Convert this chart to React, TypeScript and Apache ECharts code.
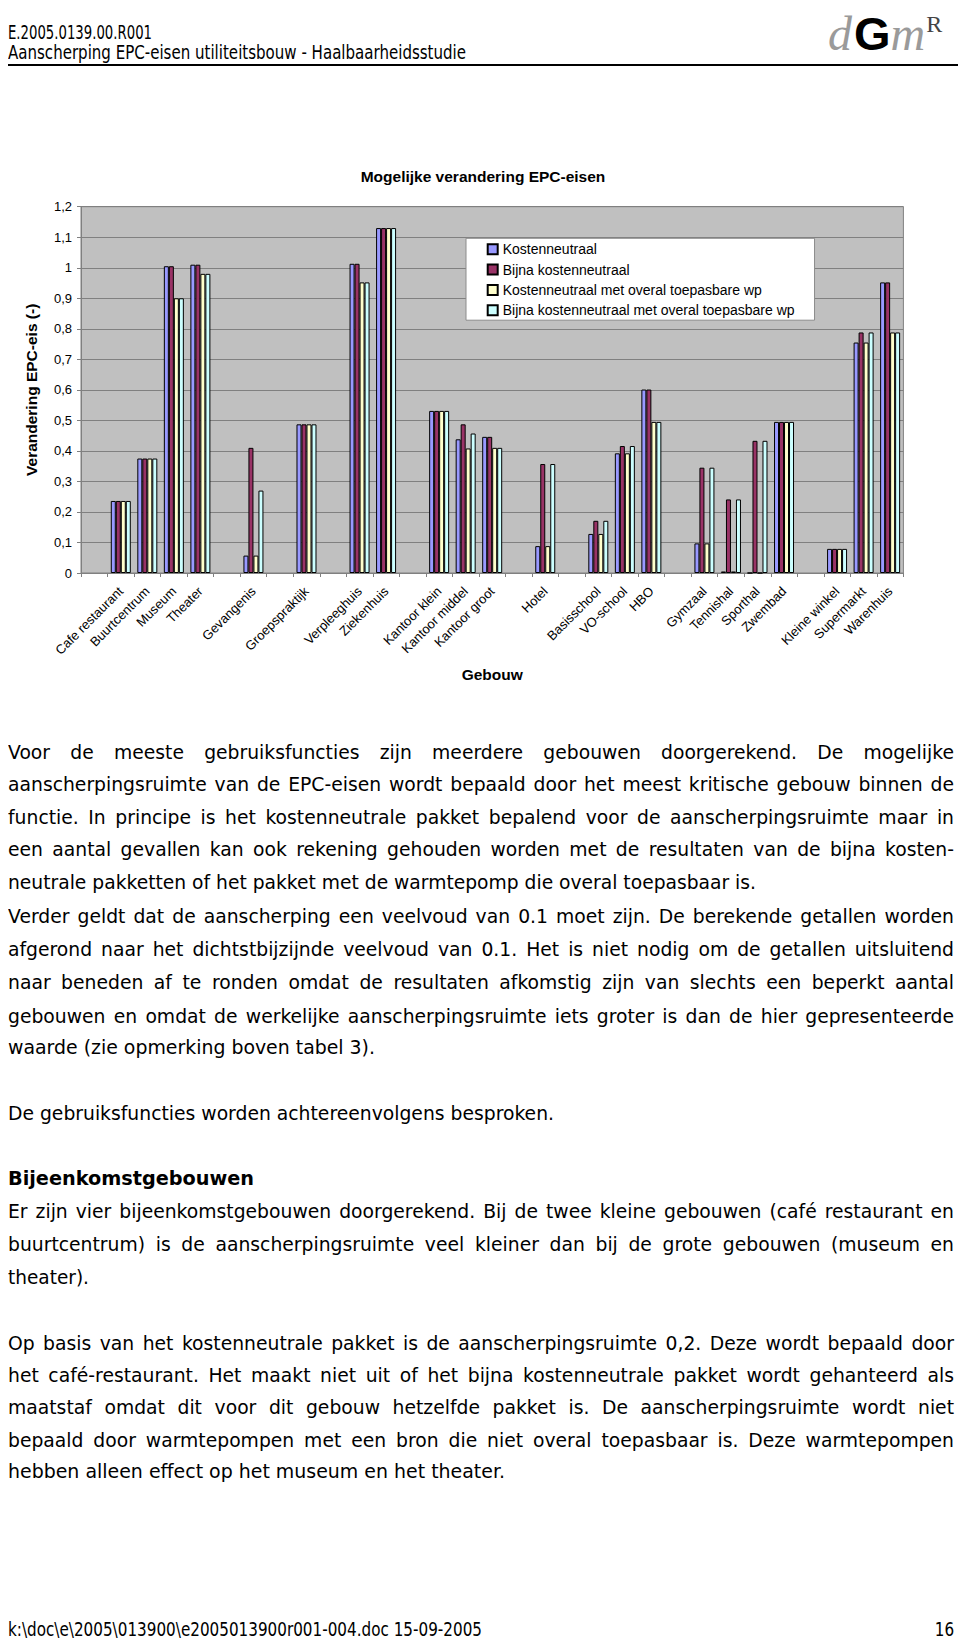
import React, { useEffect, useRef, useMemo } from 'react';
import * as echarts from 'echarts';

// ---------- chart data ----------
const categories = [
  '', 'Cafe restaurant', 'Buurtcentrum', 'Museum', 'Theater', '', 'Gevangenis', '', 'Groepspraktijk', '',
  'Verpleeghuis', 'Ziekenhuis', '', 'Kantoor klein', 'Kantoor middel', 'Kantoor groot', '', 'Hotel', '',
  'Basisschool', 'VO-school', 'HBO', '', 'Gymzaal', 'Tennishal', 'Sporthal', 'Zwembad', '', 'Kleine winkel',
  'Supermarkt', 'Warenhuis',
];

const seriesNames = [
  'Kostenneutraal',
  'Bijna kostenneutraal',
  'Kostenneutraal met overal toepasbare wp',
  'Bijna kostenneutraal met overal toepasbare wp',
];

const kostenneutraal = [null, 0.236, 0.375, 1.005, 1.01, null, 0.057, null, 0.487, null, 1.013, 1.13, null, 0.531, 0.438, 0.446, null, 0.088, null, 0.128, 0.392, 0.601, null, 0.097, 0.005, 0, 0.495, null, 0.079, 0.755, 0.952];
const bijnaKostenneutraal = [null, 0.236, 0.375, 1.005, 1.01, null, 0.41, null, 0.487, null, 1.013, 1.13, null, 0.531, 0.487, 0.446, null, 0.357, null, 0.171, 0.416, 0.601, null, 0.345, 0.241, 0.433, 0.495, null, 0.079, 0.788, 0.952];
const kostenneutraalWp = [null, 0.236, 0.375, 0.9, 0.98, null, 0.057, null, 0.487, null, 0.952, 1.13, null, 0.531, 0.408, 0.41, null, 0.088, null, 0.128, 0.392, 0.495, null, 0.097, 0.005, 0, 0.495, null, 0.079, 0.755, 0.788];
const bijnaKostenneutraalWp = [null, 0.236, 0.375, 0.9, 0.98, null, 0.27, null, 0.487, null, 0.952, 1.13, null, 0.531, 0.457, 0.41, null, 0.357, null, 0.171, 0.416, 0.495, null, 0.345, 0.241, 0.433, 0.495, null, 0.079, 0.788, 0.788];

const seriesValues = [kostenneutraal, bijnaKostenneutraal, kostenneutraalWp, bijnaKostenneutraalWp];
const seriesColors = ['#9999ff', '#993366', '#ffffcc', '#ccffff'];

const chartTitle = 'Mogelijke verandering EPC-eisen';
const yAxisTitle = 'Verandering EPC-eis (-)';
const xAxisTitle = 'Gebouw';

// ---------- page text ----------
type Line = { text: string; y: number; mode: 'justify' | 'left'; end?: number; bold?: boolean };

const headerLines: Line[] = [
  { text: 'E.2005.0139.00.R001', y: 32, mode: 'left', end: 152 },
  { text: 'Aanscherping EPC-eisen utiliteitsbouw - Haalbaarheidsstudie', y: 52, mode: 'left', end: 466 },
];

const bodyLines: Line[] = [
  { text: 'Voor de meeste gebruiksfuncties zijn meerdere gebouwen doorgerekend. De mogelijke', y: 752, mode: 'justify' },
  { text: 'aanscherpingsruimte van de EPC-eisen wordt bepaald door het meest kritische gebouw binnen de', y: 784, mode: 'justify' },
  { text: 'functie. In principe is het kostenneutrale pakket bepalend voor de aanscherpingsruimte maar in', y: 816.5, mode: 'justify' },
  { text: 'een aantal gevallen kan ook rekening gehouden worden met de resultaten van de bijna kosten-', y: 849, mode: 'justify' },
  { text: 'neutrale pakketten of het pakket met de warmtepomp die overal toepasbaar is.', y: 881.5, mode: 'left', end: 756 },
  { text: 'Verder geldt dat de aanscherping een veelvoud van 0.1 moet zijn. De berekende getallen worden', y: 916, mode: 'justify' },
  { text: 'afgerond naar het dichtstbijzijnde veelvoud van 0.1. Het is niet nodig om de getallen uitsluitend', y: 948.5, mode: 'justify' },
  { text: 'naar beneden af te ronden omdat de resultaten afkomstig zijn van slechts een beperkt aantal', y: 982, mode: 'justify' },
  { text: 'gebouwen en omdat de werkelijke aanscherpingsruimte iets groter is dan de hier gepresenteerde', y: 1015.5, mode: 'justify' },
  { text: 'waarde (zie opmerking boven tabel 3).', y: 1047, mode: 'left', end: 375 },
  { text: 'De gebruiksfuncties worden achtereenvolgens besproken.', y: 1113, mode: 'left', end: 554 },
  { text: 'Bijeenkomstgebouwen', y: 1178, mode: 'left', end: 254, bold: true },
  { text: 'Er zijn vier bijeenkomstgebouwen doorgerekend. Bij de twee kleine gebouwen (café restaurant en', y: 1210.5, mode: 'justify' },
  { text: 'buurtcentrum) is de aanscherpingsruimte veel kleiner dan bij de grote gebouwen (museum en', y: 1244, mode: 'justify' },
  { text: 'theater).', y: 1276.5, mode: 'left', end: 89 },
  { text: 'Op basis van het kostenneutrale pakket is de aanscherpingsruimte 0,2. Deze wordt bepaald door', y: 1342.5, mode: 'justify' },
  { text: 'het café-restaurant. Het maakt niet uit of het bijna kostenneutrale pakket wordt gehanteerd als', y: 1375, mode: 'justify' },
  { text: 'maatstaf omdat dit voor dit gebouw hetzelfde pakket is. De aanscherpingsruimte wordt niet', y: 1407, mode: 'justify' },
  { text: 'bepaald door warmtepompen met een bron die niet overal toepasbaar is. Deze warmtepompen', y: 1439.5, mode: 'justify' },
  { text: 'hebben alleen effect op het museum en het theater.', y: 1471, mode: 'left', end: 505 },
];

const footerLine: Line = { text: 'k:\\doc\\e\\2005\\013900\\e2005013900r001-004.doc 15-09-2005', y: 1629, mode: 'left', end: 482 };
const pageNumber = '16';

const BODY_FONT = '"DejaVu Sans", Verdana, Tahoma, sans-serif';
const CHART_FONT = '"Liberation Sans", Arial, sans-serif';
const TEXT_LEFT = 8;
const TEXT_RIGHT = 954;

let measureCtx: CanvasRenderingContext2D | null = null;
function measure(text: string, size: number, bold?: boolean) {
  if (!measureCtx) measureCtx = document.createElement('canvas').getContext('2d');
  if (!measureCtx) return text.length * size * 0.55;
  measureCtx.font = `${bold ? 'bold ' : ''}${size}px "DejaVu Sans"`;
  return measureCtx.measureText(text).width;
}

function TextBlock({ lines, size }: { lines: Line[]; size: number }) {
  const layout = useMemo(() => {
    const naturals = lines.map((l) => measure(l.text, size, l.bold));
    const leftScales: number[] = [];
    lines.forEach((l, i) => {
      if (l.mode === 'left' && l.end && !l.bold) leftScales.push((l.end - TEXT_LEFT) / naturals[i]);
    });
    const avg = leftScales.length ? leftScales.reduce((a, b) => a + b, 0) / leftScales.length : 0.8;
    return lines.map((l, i) => {
      const w = naturals[i];
      if (l.mode === 'left') {
        const s = l.end ? (l.end - TEXT_LEFT) / w : avg;
        return { s, width: undefined as number | undefined };
      }
      let s = avg;
      const full = TEXT_RIGHT - TEXT_LEFT;
      if (w * s > full) s = (full / w) * 0.995;
      return { s, width: full / s };
    });
  }, [lines, size]);

  return (
    <>
      {lines.map((l, i) => {
        const { s, width } = layout[i];
        const style: React.CSSProperties = {
          position: 'absolute',
          left: TEXT_LEFT,
          top: l.y - 14,
          height: 28,
          lineHeight: '28px',
          fontSize: size,
          fontFamily: BODY_FONT,
          fontWeight: l.bold ? 'bold' : 'normal',
          color: '#000',
          transform: `scaleX(${s})`,
          transformOrigin: '0 0',
          whiteSpace: width ? 'normal' : 'nowrap',
        };
        if (width) {
          style.width = width;
          style.textAlign = 'justify';
          (style as any).textAlignLast = 'justify';
        }
        return (
          <div key={i} style={style}>
            {l.text}
          </div>
        );
      })}
    </>
  );
}

function Chart() {
  const ref = useRef<HTMLDivElement>(null);
  useEffect(() => {
    if (!ref.current) return;
    const chart = echarts.init(ref.current, undefined, { renderer: 'svg' });
    const axisData = categories.map((c, i) => (c === '' ? `__gap${i}` : c));
    const boldText = { fontFamily: CHART_FONT, fontSize: 15.5, fontWeight: 'bold' as const, color: '#000' };
    chart.setOption({
      animation: false,
      title: {
        text: chartTitle,
        left: 478,
        top: 33,
        textAlign: 'center',
        textStyle: boldText,
      },
      legend: {
        orient: 'vertical',
        left: 466,
        top: 108.3,
        backgroundColor: '#ffffff',
        borderColor: '#8c8c8c',
        borderWidth: 1,
        padding: [4, 20, 3, 20.7],
        itemWidth: 10,
        itemHeight: 10,
        itemGap: 6.3,
        icon: 'rect',
        selectedMode: false,
        textStyle: { fontFamily: CHART_FONT, fontSize: 14, lineHeight: 14, color: '#000' },
        data: seriesNames,
      },
      grid: {
        left: 81,
        top: 76.7,
        width: 822.4,
        height: 366.3,
        show: true,
        backgroundColor: '#c0c0c0',
        borderColor: '#808080',
        borderWidth: 1,
      },
      xAxis: {
        type: 'category',
        data: axisData,
        name: xAxisTitle,
        nameLocation: 'middle',
        nameGap: 93,
        nameTextStyle: boldText,
        axisLine: { show: true, lineStyle: { color: '#808080', width: 1 } },
        axisTick: { show: true, interval: 0, length: 4, lineStyle: { color: '#808080' } },
        axisLabel: {
          interval: 0,
          rotate: 45,
          margin: 16,
          fontFamily: CHART_FONT,
          fontSize: 13,
          color: '#000',
          formatter: (v: string) => (v.startsWith('__gap') ? '' : v),
        },
        splitLine: { show: false },
      },
      yAxis: {
        type: 'value',
        min: 0,
        max: 1.2,
        interval: 0.1,
        name: yAxisTitle,
        nameLocation: 'middle',
        nameGap: 42,
        nameRotate: 90,
        nameTextStyle: boldText,
        axisLine: { show: true, lineStyle: { color: '#808080', width: 1 } },
        axisTick: { show: true, length: 4, lineStyle: { color: '#808080' } },
        axisLabel: {
          margin: 9,
          fontFamily: CHART_FONT,
          fontSize: 13,
          color: '#000',
          formatter: (v: number) => String(Math.round(v * 10) / 10).replace('.', ','),
        },
        splitLine: { show: true, lineStyle: { color: '#808080', width: 1 } },
      },
      series: seriesNames.map((name, i) => ({
        type: 'bar',
        name,
        data: seriesValues[i],
        barWidth: 5,
        barGap: '0%',
        itemStyle: { color: seriesColors[i], borderColor: '#000', borderWidth: 1 },
      })),
    });
    return () => chart.dispose();
  }, []);
  return <div ref={ref} style={{ position: 'absolute', left: 0, top: 130, width: 960, height: 570 }} />;
}

function Logo() {
  const serif = '"Liberation Serif", "DejaVu Serif", serif';
  return (
    <div style={{ position: 'absolute', left: 822, top: 0, width: 138, height: 50, whiteSpace: 'nowrap', lineHeight: '48px', paddingLeft: 6 }}>
      <span style={{ fontFamily: serif, fontStyle: 'italic', fontSize: 48, color: '#9a9a9a' }}>d</span>
      <span style={{ fontFamily: CHART_FONT, fontWeight: 'bold', fontSize: 47, color: '#000', marginLeft: 2 }}>G</span>
      <span style={{ fontFamily: serif, fontStyle: 'italic', fontSize: 48, color: '#9a9a9a' }}>m</span>
      <span style={{ fontFamily: serif, fontSize: 24, color: '#444', verticalAlign: '18px', marginLeft: 1 }}>R</span>
    </div>
  );
}

export default function App() {
  return (
    <div style={{ position: 'absolute', left: 0, top: 0, width: 960, height: 1642, background: '#fff', overflow: 'hidden' }}>
      <TextBlock lines={headerLines} size={19} />
      <Logo />
      <div style={{ position: 'absolute', left: 8, top: 64, width: 950, height: 2, background: '#000' }} />
      <Chart />
      <TextBlock lines={bodyLines} size={20} />
      <TextBlock lines={[footerLine]} size={19} />
      <div style={{ position: 'absolute', right: 6, top: footerLine.y - 14, height: 28, lineHeight: '28px', fontSize: 19, fontFamily: BODY_FONT, color: '#000', transform: 'scaleX(0.8)', transformOrigin: '100% 0' }}>{pageNumber}</div>
    </div>
  );
}
